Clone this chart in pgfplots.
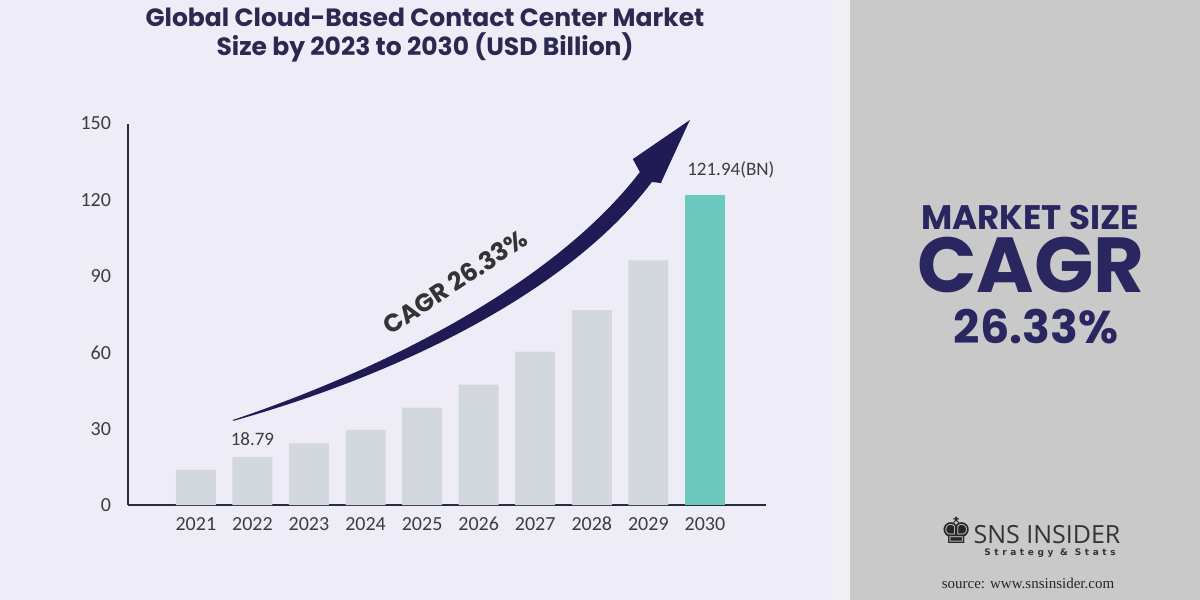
\documentclass[border=0pt]{standalone}
\usepackage{fontspec}
\setmainfont{Poppins}
\newfontfamily\carlito{Carlito}
\newfontfamily\dejavu{DejaVu Sans}
\newfontfamily\opensans{Open Sans}
\newfontfamily\spacedfont[LetterSpace=40]{DejaVu Sans}
\newfontfamily\libserif{Liberation Serif}
\usepackage{pgfplots}
\pgfplotsset{compat=1.18}
\definecolor{bgl}{HTML}{EEEDF7}
\definecolor{bgr}{HTML}{C9C9C9}
\definecolor{strip}{HTML}{F0F0F2}
\definecolor{navy}{HTML}{2A2660}
\definecolor{titlec}{HTML}{2B2950}
\definecolor{arrowc}{HTML}{201A55}
\definecolor{barg}{HTML}{D3D8DF}
\definecolor{tealc}{HTML}{6CC9BD}
\definecolor{axisc}{HTML}{2B2B3F}
\definecolor{tickc}{HTML}{3C3C44}
\definecolor{logoc}{HTML}{333333}
\begin{document}
\begin{tikzpicture}
\fill[bgl] (0,0) rectangle (425pt,300pt);
\fill[strip] (416pt,0) rectangle (425pt,300pt);
\fill[bgr] (425pt,0) rectangle (600pt,300pt);
\node[font=\bfseries\fontsize{12.5}{14}\selectfont, text=titlec] at (212.5pt,291.5pt) {Global Cloud-Based Contact Center Market};
\node[font=\bfseries\fontsize{12.5}{14}\selectfont, text=titlec] at (212.5pt,276.5pt) {Size by 2023 to 2030 (USD Billion)};
\begin{axis}[at={(64pt,47.5pt)}, anchor=south west, scale only axis,
  width=319pt, height=190.75pt,
  xmin=-1.2, xmax=10.08, ymin=0, ymax=150,
  axis lines*=left, axis line style={axisc, line width=1pt},
  ytick={0,30,60,90,120,150}, xtick={0,1,2,3,4,5,6,7,8,9},
  xticklabels={2021,2022,2023,2024,2025,2026,2027,2028,2029,2030},
  major tick length=0pt,
  ticklabel style={font=\carlito\fontsize{10}{12}\selectfont, text=tickc},
  /pgf/number format/assume math mode=true,
  yticklabel style={xshift=-5pt},
  xticklabel style={yshift=-2.5pt},
  clip=false, ybar, bar width=20pt, bar shift=0pt]
\addplot[fill=barg, draw=none] coordinates {(0,13.9) (1,18.8) (2,24.2) (3,29.5) (4,38.3) (5,47.3) (6,60.3) (7,76.6) (8,96.2)};
\addplot[fill=tealc, draw=none] coordinates {(9,121.94)};
\fill[arrowc] (axis cs:0.654,33.42) .. controls (axis cs:3.678,56.23) and (axis cs:6.436,90.04) .. (axis cs:7.85,130.9) -- (axis cs:7.726,136.0) -- (axis cs:8.734,151.38) -- (axis cs:8.221,126.6) -- (axis cs:8.062,127.0) .. controls (axis cs:6.648,85.32) and (axis cs:3.748,52.29) .. (axis cs:0.654,33.03) -- cycle;
\node[font=\carlito\fontsize{9.5}{11}\selectfont, text=tickc] at (axis cs:1,18.8) [yshift=9pt] {18.79};
\node[font=\carlito\fontsize{9.5}{11}\selectfont, text=tickc] at (axis cs:9.459,131.72) {121.94(BN)};
\node[rotate=33.5, font=\fontsize{12.5}{14}\selectfont\bfseries, text=black!80] at (axis cs:4.579,87.68) {CAGR 26.33\%};
\end{axis}
\node[font=\bfseries\fontsize{17}{19}\selectfont, text=navy] at (515pt,191.25pt) {MARKET SIZE};
\node[font=\bfseries\fontsize{39}{41}\selectfont, text=navy] at (515.5pt,167.5pt) {CAGR};
\node[font=\bfseries\fontsize{23}{25}\selectfont, text=navy] at (518pt,136.5pt) {26.33\%};
\node[font=\dejavu\fontsize{18}{20}\selectfont, text=black!85] at (478.5pt,35pt) {♚};
\node[font=\opensans\fontsize{12.5}{14}\selectfont, text=logoc] at (523.5pt,32.5pt) {SNS INSIDER};
\node[font=\spacedfont\bfseries\fontsize{4.5}{5}\selectfont, text=logoc] at (525pt,23.5pt) {Strategy \& Stats};
\node[font=\libserif\fontsize{7.5}{9}\selectfont, text=black!85] at (514pt,8.5pt) {source: www.snsinsider.com};
\pgfresetboundingbox
\path[use as bounding box] (0,0) rectangle (600pt,300pt);
\end{tikzpicture}
\end{document}
